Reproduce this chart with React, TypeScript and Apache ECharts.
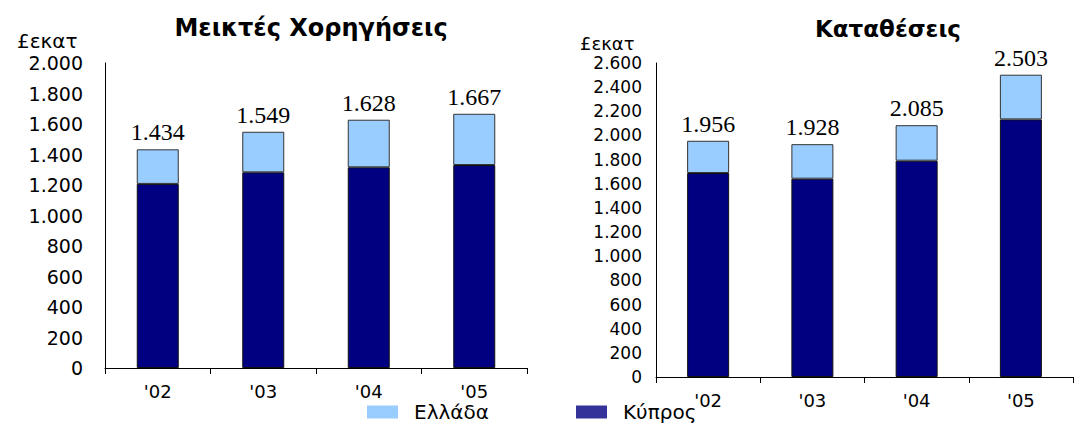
import React, { useEffect, useRef } from "react";
import * as echarts from "echarts";

const years = ["'02", "'03", "'04", "'05"];
const loansCyprus = [1207, 1283, 1316, 1331];
const loansGreece = [227, 266, 312, 336];
const depositsCyprus = [1689, 1642, 1791, 2133];
const depositsGreece = [267, 286, 294, 370];
const loansTitle = "Μεικτές Χορηγήσεις";
const depositsTitle = "Καταθέσεις";
const unitLabel = "£εκατ";
const greeceName = "Ελλάδα";
const cyprusName = "Κύπρος";

const fmt = (v: number) => String(v).replace(/\B(?=(\d{3})+(?!\d))/g, ".");

const SANS = "DejaVu Sans";
const SERIF = "Liberation Serif";

export default function App() {
  const ref = useRef<HTMLDivElement>(null);
  useEffect(() => {
    if (!ref.current) return;
    const chart = echarts.init(ref.current, undefined, { renderer: "svg" });
    const yAxisBase = (max: number, size: number, margin: number, idx: number) => ({
      type: "value",
      gridIndex: idx,
      min: 0,
      max,
      interval: 200,
      splitLine: { show: false },
      axisTick: { show: false },
      axisLine: { show: true, lineStyle: { color: "#000", width: 1 } },
      axisLabel: {
        color: "#000",
        fontFamily: SANS,
        fontSize: size,
        margin,
        formatter: (v: number) => fmt(v),
      },
    });
    const xAxisBase = (idx: number, margin: number) => ({
      type: "category",
      gridIndex: idx,
      data: years,
      axisLine: { show: true, lineStyle: { color: "#000", width: 1 } },
      axisTick: { show: true, interval: 0, length: 6, lineStyle: { color: "#000" } },
      axisLabel: { color: "#000", fontFamily: SANS, fontSize: 18, lineHeight: 18, margin, interval: 0 },
    });
    const makeSeries = (idx: number, cyprus: number[], greece: number[], stack: string) => [
      {
        name: cyprusName,
        type: "bar",
        xAxisIndex: idx,
        yAxisIndex: idx,
        stack,
        barWidth: 42,
        data: cyprus,
        itemStyle: { color: "#000080", borderColor: "#111", borderWidth: 1 },
      },
      {
        name: greeceName,
        type: "bar",
        xAxisIndex: idx,
        yAxisIndex: idx,
        stack,
        barWidth: 42,
        data: greece,
        itemStyle: { color: "#99CCFF", borderColor: "#333", borderWidth: 1 },
        label: {
          show: true,
          position: "top",
          distance: 5,
          color: "#000",
          fontFamily: SERIF,
          fontSize: 24,
          formatter: (p: any) => fmt(cyprus[p.dataIndex] + greece[p.dataIndex]),
        },
      },
    ];
    const legendBase = (left: number, name: string, color: string) => ({
      left,
      top: 402,
      padding: 0,
      icon: "rect",
      itemWidth: 31,
      itemHeight: 13,
      textStyle: { fontFamily: SANS, fontSize: 20, lineHeight: 20, color: "#000", padding: [0, 0, 0, 11] },
      data: [{ name, itemStyle: { color, borderWidth: 0 } }],
    });
    chart.setOption({
      animation: false,
      backgroundColor: "#fff",
      title: [
        {
          text: loansTitle,
          left: 306,
          top: 11,
          textAlign: "center",
          textStyle: { fontFamily: SANS, fontSize: 24, fontWeight: "bold", color: "#000" },
        },
        {
          text: depositsTitle,
          left: 883,
          top: 12,
          textAlign: "center",
          textStyle: { fontFamily: SANS, fontSize: 23, fontWeight: "bold", color: "#000" },
        },
        {
          text: unitLabel,
          left: 12,
          top: 26,
          textStyle: { fontFamily: SANS, fontSize: 20, fontWeight: "normal", color: "#000" },
        },
        {
          text: unitLabel,
          left: 575,
          top: 29,
          textStyle: { fontFamily: SANS, fontSize: 18, fontWeight: "normal", color: "#000" },
        },
      ],
      legend: [
        legendBase(367, greeceName, "#99CCFF"),
        legendBase(576, cyprusName, "#333399"),
      ],
      grid: [
        { left: 105, top: 63, width: 422, height: 305 },
        { left: 656, top: 63, width: 417, height: 314 },
      ],
      xAxis: [xAxisBase(0, 14), xAxisBase(1, 14)],
      yAxis: [yAxisBase(2000, 19, 22, 0), yAxisBase(2600, 17, 14, 1)],
      series: [
        ...makeSeries(0, loansCyprus, loansGreece, "loans"),
        ...makeSeries(1, depositsCyprus, depositsGreece, "deposits"),
      ],
    });
    return () => chart.dispose();
  }, []);
  return (
    <div
      ref={ref}
      style={{ position: "absolute", left: 0, top: 0, width: 1091, height: 426 }}
    />
  );
}
